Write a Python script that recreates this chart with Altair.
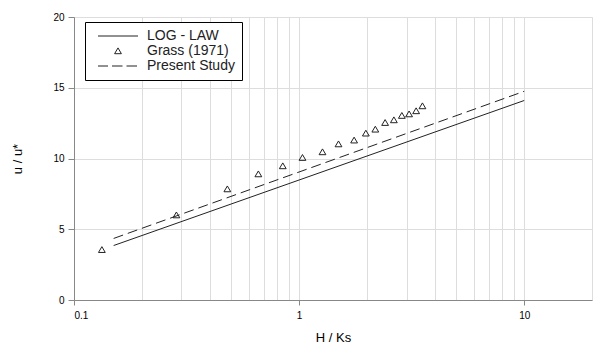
import altair as alt
import pandas as pd

# ---- data ----
series = ["LOG - LAW", "Grass (1971)", "Present Study"]
grass_x = [0.133, 0.285, 0.48, 0.659, 0.846, 1.035, 1.27, 1.496, 1.755, 1.979,
           2.18, 2.41, 2.636, 2.86, 3.08, 3.31, 3.53]
grass_y = [3.55, 6.0, 7.84, 8.9, 9.47, 10.06, 10.46, 11.02, 11.29, 11.78,
           12.06, 12.53, 12.72, 13.03, 13.14, 13.36, 13.71]
loglaw_x = [0.15, 10]
loglaw_y = [3.85, 14.1]
present_x = [0.15, 10]
present_y = [4.35, 14.75]
x_major = [0.1, 1, 10]
x_grid = [0.2, 0.3, 0.4, 0.5, 0.6, 0.7, 0.8, 0.9, 1, 2, 3, 4, 5, 6, 7, 8, 9, 10]
y_ticks = [0, 5, 10, 15, 20]

FONT = "Liberation Sans"
INK = "#222222"
FRAME = "#555555"

grass_df = pd.DataFrame({"x": grass_x, "y": grass_y, "series": series[1]})
loglaw_df = pd.DataFrame({"x": loglaw_x, "y": loglaw_y})
present_df = pd.DataFrame({"x": present_x, "y": present_y})

xscale = alt.Scale(type="log", domain=[0.1, 20], nice=False)
yscale = alt.Scale(domain=[0, 20], nice=False)

major_test = "indexof([" + ",".join(str(v) for v in x_major) + "], datum.value) >= 0"

xaxis = alt.Axis(
    values=[0.1] + x_grid,
    grid=True,
    format="~g",
    labelExpr=f"({major_test}) ? datum.label : ''",
    tickOpacity=alt.condition(major_test, alt.value(1), alt.value(0)),
    tickSize=5,
    labelPadding=5,
    title="H / Ks",
    titleFontSize=13,
    titleFontWeight="normal",
    titlePadding=11,
)
yaxis = alt.Axis(values=y_ticks, grid=True, tickSize=6, labelPadding=4,
                 title="u / u*", titleFontSize=13, titleFontWeight="normal",
                 titlePadding=28)

# symbol paths: unit = 5 px at size 100
shape_paths = [
    "M-4,0H4",
    "M0,-0.62L0.68,0.54L-0.68,0.54Z",
    "M-4,0H-2M-1.2,0H0.9M1.7,0H3.8",
]

base_x = alt.X("x:Q", scale=xscale, axis=xaxis)
base_y = alt.Y("y:Q", scale=yscale, axis=yaxis)

points = alt.Chart(grass_df).mark_point(
    filled=False, size=100, stroke=INK, strokeWidth=1, opacity=1
).encode(
    x=base_x,
    y=base_y,
    shape=alt.Shape(
        "series:N",
        scale=alt.Scale(domain=series, range=shape_paths),
        legend=alt.Legend(
            title=None, orient="none", legendX=11, legendY=5,
            strokeColor="black", fillColor="white", padding=7,
            symbolSize=100, symbolStrokeColor=INK, symbolStrokeWidth=1,
            symbolOffset=19,
            labelFontSize=14, labelFont=FONT, labelColor=INK,
            labelOffset=22, rowPadding=1,
        ),
    ),
)

loglaw = alt.Chart(loglaw_df).mark_line(color=INK, strokeWidth=1).encode(x=base_x, y=base_y)
present = alt.Chart(present_df).mark_line(color=INK, strokeWidth=1, strokeDash=[10, 5]).encode(x=base_x, y=base_y)

chart = alt.layer(loglaw, present, points).properties(
    width=518, height=283,
    autosize=alt.AutoSizeParams(type="none"),
    padding={"left": 74, "top": 17, "right": 1, "bottom": 45},
).configure_view(
    stroke=FRAME, strokeWidth=1.5
).configure_axis(
    labelFont=FONT, titleFont=FONT, labelFontSize=12, labelColor=INK, titleColor=INK,
    titleFontWeight="normal", domainColor=FRAME, domainWidth=1.5, tickColor=FRAME,
    gridColor="#d4d4d4", gridWidth=1,
).configure_legend(
    strokeWidth=1.5
).configure(background="white")

chart.save("out.html", embed_options={"renderer": "svg", "actions": False})
